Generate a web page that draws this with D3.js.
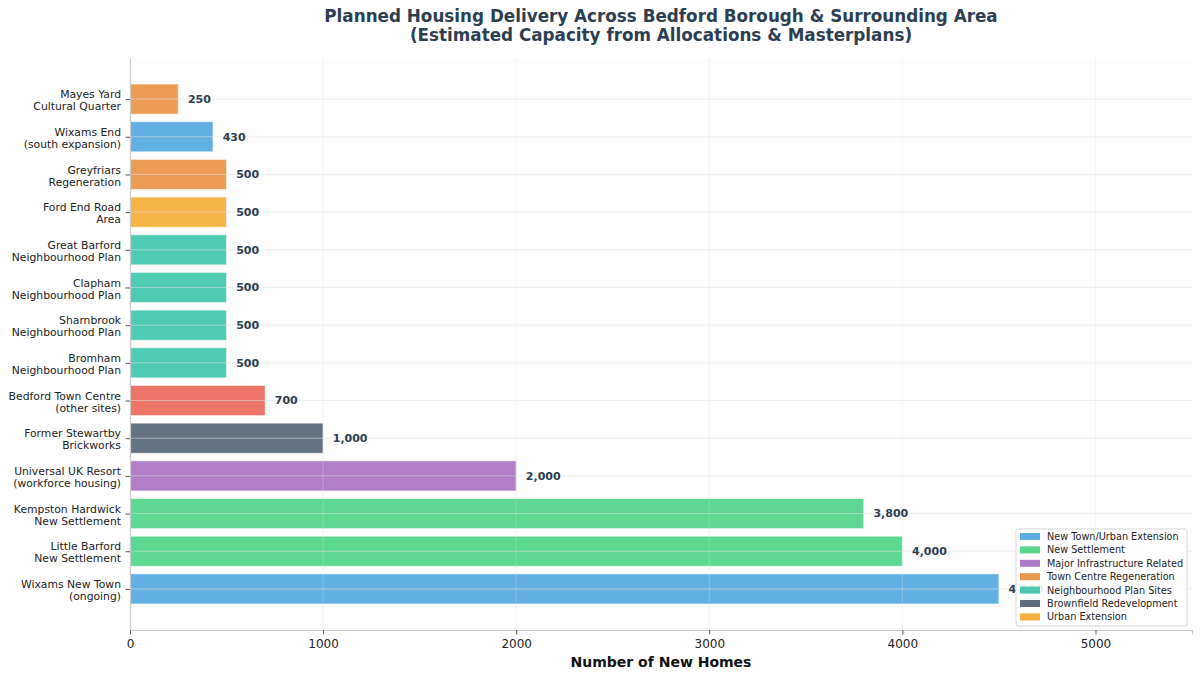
<!DOCTYPE html>
<html>
<head>
<meta charset="utf-8">
<script src="https://cdn.jsdelivr.net/npm/d3@7"></script>
<style>
  body { margin: 0; background: #fff; }
  text { font-family: "DejaVu Sans", sans-serif; }
</style>
</head>
<body>
<div id="chart"></div>
<script>
// data, top to bottom as drawn
const sites = [
	"Mayes Yard\nCultural Quarter",
	"Wixams End\n(south expansion)",
	"Greyfriars\nRegeneration",
	"Ford End Road\nArea",
	"Great Barford\nNeighbourhood Plan",
	"Clapham\nNeighbourhood Plan",
	"Sharnbrook\nNeighbourhood Plan",
	"Bromham\nNeighbourhood Plan",
	"Bedford Town Centre\n(other sites)",
	"Former Stewartby\nBrickworks",
	"Universal UK Resort\n(workforce housing)",
	"Kempston Hardwick\nNew Settlement",
	"Little Barford\nNew Settlement",
	"Wixams New Town\n(ongoing)"
];
const homes = [250, 430, 500, 500, 500, 500, 500, 500, 700, 1000, 2000, 3800, 4000, 4500];
const siteTypes = [
	"Town Centre Regeneration",
	"New Town/Urban Extension",
	"Town Centre Regeneration",
	"Urban Extension",
	"Neighbourhood Plan Sites",
	"Neighbourhood Plan Sites",
	"Neighbourhood Plan Sites",
	"Neighbourhood Plan Sites",
	"Town Centre",
	"Brownfield Redevelopment",
	"Major Infrastructure Related",
	"New Settlement",
	"New Settlement",
	"New Town/Urban Extension"
];
const legendTypes = [
	"New Town/Urban Extension",
	"New Settlement",
	"Major Infrastructure Related",
	"Town Centre Regeneration",
	"Neighbourhood Plan Sites",
	"Brownfield Redevelopment",
	"Urban Extension"
];
const typeColors = {
	"New Town/Urban Extension": "#5dade2",
	"New Settlement": "#58d68d",
	"Major Infrastructure Related": "#af7ac5",
	"Town Centre Regeneration": "#eb984e",
	"Neighbourhood Plan Sites": "#48c9b0",
	"Brownfield Redevelopment": "#5d6d7e",
	"Urban Extension": "#f5b041",
	"Town Centre": "#ec7063"
};
const xTicks = [0, 1000, 2000, 3000, 4000, 5000];

const width = 1200;
const height = 679;
const margin = { top: 58, right: 8, bottom: 49, left: 130 };

const svg = d3.select("#chart")
	.append("svg")
	.attr("width", width)
	.attr("height", height);

const x = d3.scaleLinear()
	.domain([0, 5500])
	.range([margin.left, width - margin.right]);

// matplotlib-like margins around the bar band
const n = sites.length;
const y = d3.scaleLinear()
	.domain([-1.09, n - 1 + 1.09])
	.range([margin.top, height - margin.bottom]);
const barH = (y(1) - y(0)) * 0.8;

// faint plot background
svg.append("rect")
	.attr("x", margin.left)
	.attr("y", margin.top)
	.attr("width", width - margin.left - margin.right)
	.attr("height", height - margin.top - margin.bottom)
	.attr("fill", "#fdfdfd");

// bars
svg.append("g")
	.selectAll("rect")
	.data(homes)
	.enter()
	.append("rect")
	.attr("x", x(0))
	.attr("y", (d, i) => y(i) - barH / 2)
	.attr("width", d => x(d) - x(0))
	.attr("height", barH)
	.attr("fill", (d, i) => typeColors[siteTypes[i]])
	.attr("fill-opacity", 0.97)
	.attr("stroke", "#ffffff")
	.attr("stroke-opacity", 0.6)
	.attr("stroke-width", 1);

// grid on top
const grid = svg.append("g")
	.attr("stroke", "#e2e2e2")
	.attr("stroke-width", 1);
grid.selectAll(".gx")
	.data(xTicks)
	.enter()
	.append("line")
	.attr("stroke-opacity", 0.3)
	.attr("x1", d => x(d))
	.attr("x2", d => x(d))
	.attr("y1", margin.top)
	.attr("y2", height - margin.bottom);
grid.selectAll(".gy")
	.data(sites)
	.enter()
	.append("line")
	.attr("stroke-opacity", 0.55)
	.attr("x1", margin.left)
	.attr("x2", width - margin.right)
	.attr("y1", (d, i) => y(i))
	.attr("y2", (d, i) => y(i));

// value labels
svg.append("g")
	.selectAll("text")
	.data(homes)
	.enter()
	.append("text")
	.attr("x", d => x(d + 50))
	.attr("y", (d, i) => y(i))
	.attr("dy", "0.35em")
	.attr("font-size", 11)
	.attr("font-weight", "bold")
	.attr("fill", "#2c3e50")
	.text(d => d3.format(",")(d));

// x axis
const xAxis = svg.append("g")
	.attr("transform", `translate(0, ${height - margin.bottom})`)
	.call(d3.axisBottom(x).tickValues(xTicks).tickFormat(d3.format("d")).tickSize(4.5).tickPadding(5));
xAxis.select(".domain").attr("stroke", "#cccccc").attr("stroke-width", 1.2);
xAxis.selectAll(".tick line").attr("stroke", "#555");
xAxis.selectAll(".tick text")
	.attr("font-size", 12)
	.attr("fill", "#222")
	.attr("font-family", "DejaVu Sans, sans-serif");

// y axis
const yAxis = svg.append("g")
	.attr("transform", `translate(${margin.left}, 0)`)
	.call(d3.axisLeft(y).tickValues(d3.range(n)).tickFormat("").tickSize(4.5).tickSizeOuter(0));
yAxis.select(".domain").attr("stroke", "#cccccc").attr("stroke-width", 1.2);
yAxis.selectAll(".tick line").attr("stroke", "#555");

const yLabels = svg.append("g")
	.selectAll("text")
	.data(sites)
	.enter()
	.append("text")
	.attr("x", margin.left - 9)
	.attr("y", (d, i) => y(i))
	.attr("text-anchor", "end")
	.attr("font-size", 10.8)
	.attr("fill", "#222");
yLabels.each(function (d) {
	const lines = d.split("\n");
	const t = d3.select(this);
	lines.forEach((line, k) => {
		t.append("tspan")
			.attr("x", margin.left - 9)
			.attr("dy", k === 0 ? (-(lines.length - 1) * 6 + 5.2) : 12)
			.text(line);
	});
});

// axis title
svg.append("text")
	.attr("x", (margin.left + width - margin.right) / 2)
	.attr("y", 667)
	.attr("text-anchor", "middle")
	.attr("font-size", 14)
	.attr("font-weight", "bold")
	.attr("fill", "#111")
	.text("Number of New Homes");

// chart title
const title = svg.append("text")
	.attr("x", (margin.left + width - margin.right) / 2)
	.attr("text-anchor", "middle")
	.attr("font-size", 16.8)
	.attr("font-weight", "bold")
	.attr("fill", "#2c3e50");
title.append("tspan")
	.attr("x", (margin.left + width - margin.right) / 2)
	.attr("y", 22)
	.text("Planned Housing Delivery Across Bedford Borough & Surrounding Area");
title.append("tspan")
	.attr("x", (margin.left + width - margin.right) / 2)
	.attr("y", 41)
	.text("(Estimated Capacity from Allocations & Masterplans)");

// legend
const legend = svg.append("g")
	.attr("transform", "translate(1016, 529)");
legend.append("rect")
	.attr("width", 171)
	.attr("height", 97)
	.attr("rx", 2)
	.attr("fill", "#ffffff")
	.attr("fill-opacity", 0.9)
	.attr("stroke", "#d6d6d6");
const items = legend.selectAll(".item")
	.data(legendTypes)
	.enter()
	.append("g")
	.attr("transform", (d, i) => `translate(4, ${7.5 + i * 13.4})`);
items.append("rect")
	.attr("width", 20)
	.attr("height", 7)
	.attr("y", -3.5)
	.attr("fill", d => typeColors[d]);
items.append("text")
	.attr("x", 27)
	.attr("dy", "0.35em")
	.attr("font-size", 9.7)
	.attr("fill", "#222")
	.text(d => d);
</script>
</body>
</html>
